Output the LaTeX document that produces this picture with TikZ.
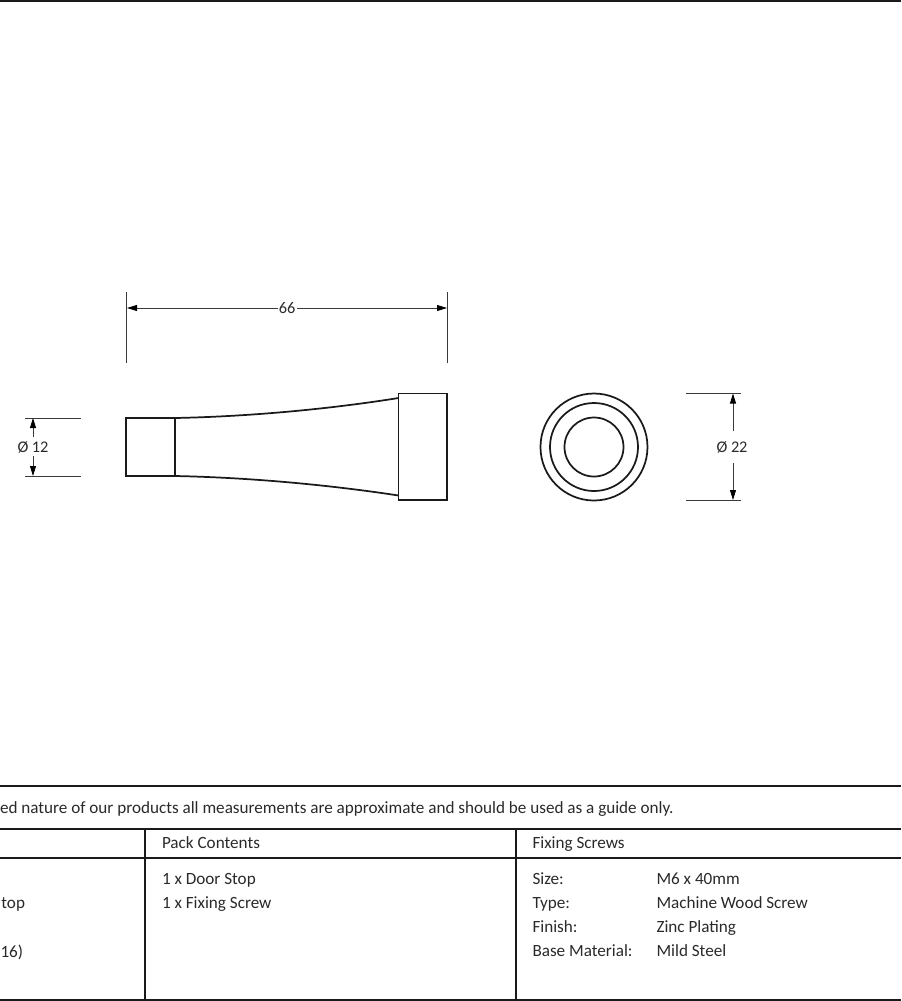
\documentclass[tikz,border=0pt]{standalone}
\usepackage{fontspec}
\setmainfont{Carlito}
\usetikzlibrary{arrows.meta}
\definecolor{ink}{HTML}{1A1A1A}
\definecolor{dimc}{HTML}{3A3A3A}
\definecolor{txt}{HTML}{2A2A2A}
\tikzset{
  x=0.75pt,y=-0.75pt,
  part/.style={draw=ink,line width=1.3pt},
  tablerule/.style={draw=ink,line width=1.5pt},
  extline/.style={draw=dimc,line width=0.6pt},
  dimline/.style={draw=dimc,line width=0.6pt,-{Stealth[length=7.5pt,width=4.5pt,inset=0pt,black]}},
  label/.style={font=\fontsize{12.85}{15}\selectfont,text=txt,inner sep=0pt,outer sep=0pt,anchor=base west},
  labelr/.style={label,anchor=base east},
  dimtext/.style={font=\fontsize{12.2}{15}\selectfont,text=txt,inner sep=0pt,outer sep=0pt,anchor=center},
}
\begin{document}
\begin{tikzpicture}
\useasboundingbox (0,0) rectangle (901,1001);
\fill[white] (0,0) rectangle (901,1001);
% top edge
\coordinate (tl) at (0,0.5); \coordinate (tr) at (901,0.5);
\draw[tablerule] (tl) -- (tr);
% body
\coordinate (a1) at (126,418); \coordinate (a2) at (175,418);
\coordinate (a3) at (175,476); \coordinate (a4) at (126,476);
\coordinate (f1) at (398.5,393.5); \coordinate (f2) at (447,393.5);
\coordinate (f3) at (447,500); \coordinate (f4) at (398.5,500);
\coordinate (c1) at (398.5,398); \coordinate (c2) at (398.5,495.5);
\draw[part] (a1) -- (a2) -- (a3) -- (a4) -- cycle;
\draw[part] (f1) -- (f2) -- (f3) -- (f4) -- cycle;
\draw[part] (a2) .. controls (250,416.5) and (330,409) .. (c1);
\draw[part] (a3) .. controls (250,477.5) and (330,485) .. (c2);
% end view
\coordinate (o) at (594,447);
\draw[part] (o) circle[radius=53.5];
\draw[part] (o) circle[radius=44];
\draw[part] (o) circle[radius=29.5];
% dim 66
\coordinate (e1t) at (126.5,292); \coordinate (e1b) at (126.5,363);
\coordinate (e2t) at (447,292); \coordinate (e2b) at (447,363);
\draw[extline] (e1t) -- (e1b);
\draw[extline] (e2t) -- (e2b);
\node[dimtext] (d66) at (287,308) {66};
\coordinate (d66l) at (127,308); \coordinate (d66r) at (447,308);
\draw[dimline] (277.5,308) -- (d66l);
\draw[dimline] (297,308) -- (d66r);
% dim 12
\coordinate (g1l) at (25,418); \coordinate (g1r) at (80.5,418);
\coordinate (g2l) at (25,476); \coordinate (g2r) at (80.5,476);
\draw[extline] (g1l) -- (g1r);
\draw[extline] (g2l) -- (g2r);
\node[dimtext] (d12) at (33,447) {Ø 12};
\coordinate (d12t) at (33,418); \coordinate (d12b) at (33,476);
\draw[dimline] (33,437) -- (d12t);
\draw[dimline] (33,456) -- (d12b);
% dim 22
\coordinate (h1l) at (686,393.5); \coordinate (h1r) at (741,393.5);
\coordinate (h2l) at (686,500); \coordinate (h2r) at (741,500);
\draw[extline] (h1l) -- (h1r);
\draw[extline] (h2l) -- (h2r);
\node[dimtext] (d22) at (732,447) {Ø 22};
\coordinate (d22t) at (733,393.5); \coordinate (d22b) at (733,500);
\draw[dimline] (733,431) -- (d22t);
\draw[dimline] (733,463) -- (d22b);
% table
\coordinate (r1l) at (0,786); \coordinate (r1r) at (901,786);
\coordinate (r2l) at (0,829); \coordinate (r2r) at (901,829);
\coordinate (r3l) at (0,858); \coordinate (r3r) at (901,858);
\coordinate (r4l) at (0,999.5); \coordinate (r4r) at (901,999.5);
\coordinate (v1t) at (145,829); \coordinate (v1b) at (145,999.5);
\coordinate (v2t) at (516,829); \coordinate (v2b) at (516,999.5);
\draw[tablerule] (r1l) -- (r1r);
\draw[tablerule] (r2l) -- (r2r);
\draw[tablerule] (r3l) -- (r3r);
\draw[tablerule] (r4l) -- (r4r);
\draw[tablerule] (v1t) -- (v1b);
\draw[tablerule] (v2t) -- (v2b);
% text
\node[label] (note) at (0,813) {ed nature of our products all measurements are approximate and should be used as a guide only.};
\node[label] (pc) at (162,848) {Pack Contents};
\node[label] (fs) at (532.5,848) {Fixing Screws};
\node[label] (p1) at (162,884) {1 x Door Stop};
\node[label] (p2) at (162,908) {1 x Fixing Screw};
\node[labelr] (l1) at (25,908) {top};
\node[label] (l2) at (0.5,957) {16)};
\node[label] (s1) at (532.5,884) {Size:};
\node[label] (s2) at (532.5,908) {Type:};
\node[label] (s3) at (532.5,932) {Finish:};
\node[label] (s4) at (532.5,956) {Base Material:};
\node[label] (v1) at (656.5,884) {M6 x 40mm};
\node[label] (v2) at (656.5,908) {Machine Wood Screw};
\node[label] (v3) at (656.5,932) {Zinc Plating};
\node[label] (v4) at (656.5,956) {Mild Steel};
\end{tikzpicture}
\end{document}
